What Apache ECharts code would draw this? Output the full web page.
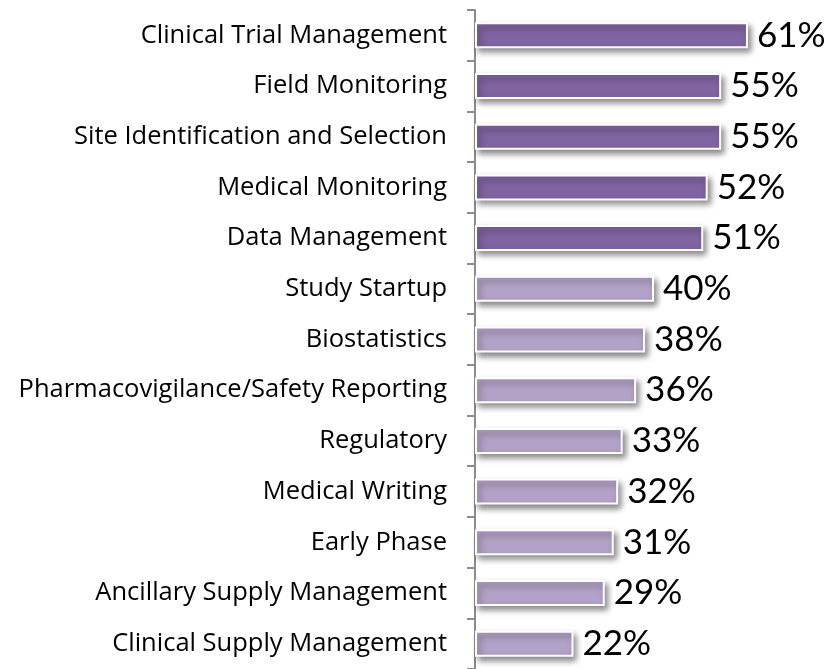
<!DOCTYPE html>
<html><head><meta charset="utf-8">
<script src="https://cdn.jsdelivr.net/npm/echarts@6/dist/echarts.min.js"></script>
<style>html,body{margin:0;padding:0;background:#fff}#c{width:833px;height:669px}</style>
</head><body><div id="c"></div>
<script>
const categories = ["Clinical Trial Management","Field Monitoring","Site Identification and Selection","Medical Monitoring","Data Management","Study Startup","Biostatistics","Pharmacovigilance/Safety Reporting","Regulatory","Medical Writing","Early Phase","Ancillary Supply Management","Clinical Supply Management"];
const values = [61,55,55,52,51,40,38,36,33,32,31,29,22];
const highlighted = [true,true,true,true,true,false,false,false,false,false,false,false,false];
const darkColor = "#8064A2", lightColor = "#B3A2C7";
const chart = echarts.init(document.getElementById('c'));
chart.setOption({
  animation:false,
  grid:{left:475,right:0,top:10,bottom:0,containLabel:false},
  xAxis:{type:'value',min:0,max:80,show:false},
  yAxis:{type:'category',data:categories,inverse:true,
    axisLine:{show:true,lineStyle:{color:'#8c8c8c',width:2}},
    axisTick:{show:true,length:8,lineStyle:{color:'#8c8c8c',width:2}},
    axisLabel:{fontFamily:'Open Sans',fontSize:25.5,color:'#000',margin:28}
  },
  series:[{type:'bar',barWidth:26,
    data:values.map((v,i)=>({value:v,itemStyle:{color:highlighted[i]?darkColor:lightColor}})),
    itemStyle:{borderColor:'#fff',borderWidth:2,shadowColor:'rgba(0,0,0,0.45)',shadowBlur:6,shadowOffsetX:3,shadowOffsetY:4},
    label:{show:true,position:'right',distance:9,formatter:'{c}%',fontFamily:'Lato',fontSize:35,color:'#000'}
  }]
});
</script></body></html>
